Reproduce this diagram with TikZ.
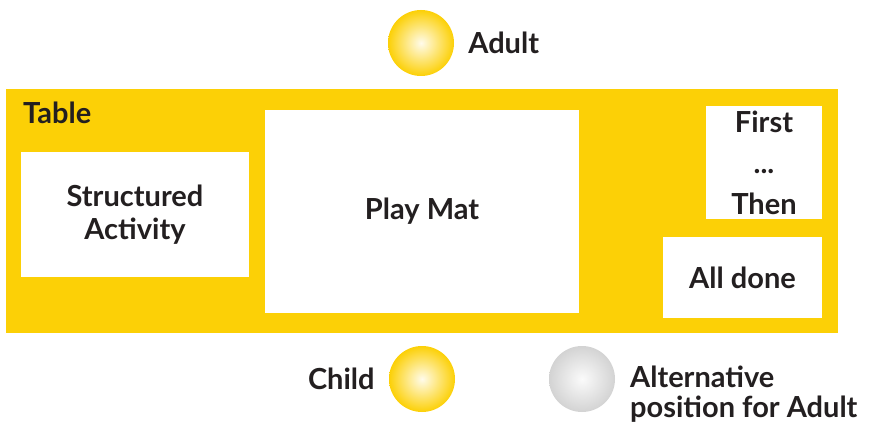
\documentclass[tikz,border=0pt]{standalone}
\usepackage{fontspec}
\setmainfont{Lato}
\usepackage{tikz}
\usetikzlibrary{positioning}
\definecolor{cTable}{HTML}{FCD006}
\definecolor{cGrey}{HTML}{D3D3D3}
\definecolor{cText}{HTML}{231F20}

\begin{document}
\begin{tikzpicture}[x=1pt, y=-1pt,
  box/.style={fill=white, draw=none, inner sep=0pt, text=cText, align=center,
    font=\fontsize{29}{33}\selectfont\bfseries},
  lbl/.style={text=cText, inner sep=0pt, align=left,
    font=\fontsize{29}{30}\selectfont\bfseries},
  person/.style={circle, minimum size=66pt, inner sep=0pt, draw=none,
    inner color=cTable!8, outer color=cTable},
  spare/.style={person, inner color=cGrey!10, outer color=cGrey}
]
\useasboundingbox (0,0) rectangle (869,425);

\node[fill=cTable, minimum width=832pt, minimum height=244pt, inner sep=0pt] (table) at (422,211) {};
\node[lbl, anchor=west] (tlabel) at (23,113) {Table};

\node[box, minimum width=228pt, minimum height=125pt] (act) at (135,214.5) {Structured\\Activity};
\node[box, minimum width=314pt, minimum height=203pt] (mat) at (422,211.5) {Play Mat};
\node[box, minimum width=116pt, minimum height=113pt,
  font=\fontsize{29}{41}\selectfont\bfseries] (first) at (764,162.5) {First\\...\\Then};
\node[box, minimum width=159pt, minimum height=81pt] (done) at (742.5,277.5) {All done};

\node[person] (adult) at (421,43) {};
\node[lbl, right=14pt of adult] {Adult};
\node[person] (child) at (422,379) {};
\node[lbl, left=14pt of child] {Child};
\node[spare] (alt) at (582,379) {};
\node[lbl, anchor=west] at (630,394) {Alternative\\position for Adult};
\end{tikzpicture}
\end{document}
